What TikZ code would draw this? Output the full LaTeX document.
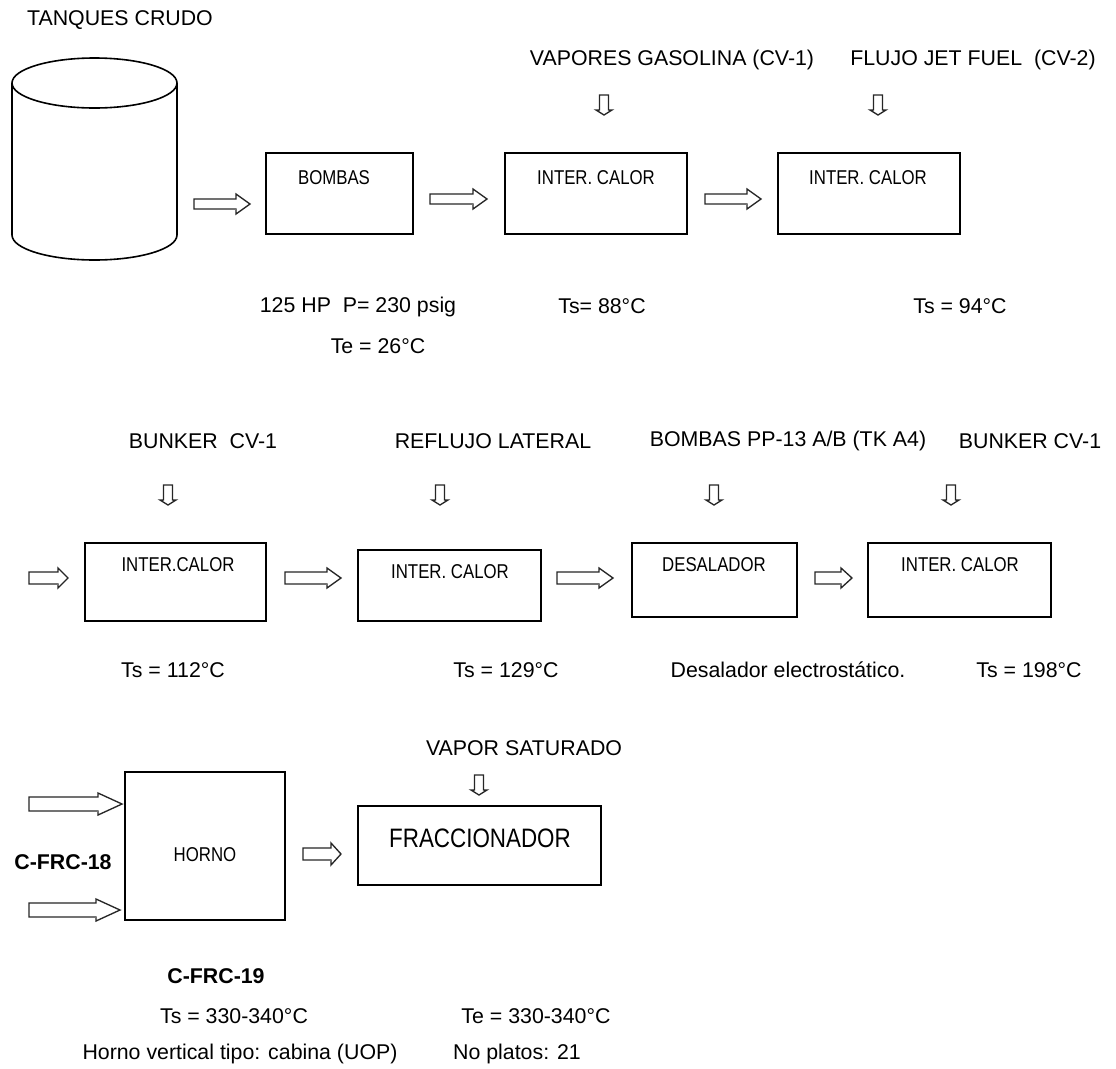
\documentclass[tikz,border=0pt]{standalone}
\usepackage{fontspec}
\setmainfont{Liberation Sans}
\newfontfamily\narrowfont[FakeStretch=0.84]{Liberation Sans}
\usetikzlibrary{fit}
\tikzset{
  lbl/.style={font=\fontsize{16}{19}\selectfont, inner sep=0pt},
  boldlbl/.style={font=\bfseries\fontsize{16}{19}\selectfont, inner sep=0pt},
  boxlbl/.style={font=\narrowfont\fontsize{15}{18}\selectfont, inner sep=0pt},
  biglbl/.style={font=\narrowfont\fontsize{20}{24}\selectfont, inner sep=0pt},
  procbox/.style={draw=black, line width=1.3pt, inner sep=0pt},
  arrowline/.style={draw=black!85, line width=1pt, fill=white, line join=miter},
  pics/harrow/.style n args={4}{code={
    \draw[arrowline] (0,-#2) -- (#1-#4,-#2) -- (#1-#4,-#3) -- (#1,0) -- (#1-#4,#3) -- (#1-#4,#2) -- (0,#2) -- cycle;
    \draw[black!55, line width=1.2pt] (0.5,#2) -- (#1-#4,#2);
  }},
  pics/varrow/.style n args={4}{code={
    \draw[arrowline] (-#2,0) -- (-#2,#1-#4) -- (-#3,#1-#4) -- (0,#1) -- (#3,#1-#4) -- (#2,#1-#4) -- (#2,0) -- cycle;
  }}
}
\begin{document}
\begin{tikzpicture}[x=0.75pt, y=-0.75pt]
\useasboundingbox[fill=white] (0,0) rectangle (1116,1068);

% ---------- Row 1 ----------
\node[lbl] (tanqlbl) at (120,20) {TANQUES CRUDO};
% tank
\coordinate (tank) at (94.5,160);
\draw[line width=1.2pt] (94.5,83) ellipse [x radius=61.875pt, y radius=18.75pt];
\draw[line width=1.2pt] (12,83) -- (12,235) arc[start angle=180, end angle=360, x radius=61.875pt, y radius=18.75pt] -- (177,83);

\pic at (194,204) {harrow={56}{5}{10}{14}};

\node[procbox, fit={(266,153)(413,234)}] (bombas) {};
\node[boxlbl] (bombaslbl) at (334,178) {BOMBAS};

\pic at (430,199) {harrow={57}{5}{10}{14}};

\node[procbox, fit={(505,153)(687,234)}] (ic1) {};
\node[boxlbl] (ic1lbl) at (596,178) {INTER. CALOR};

\pic at (705,199) {harrow={56}{5}{10}{14}};

\node[procbox, fit={(778,153)(960,234)}] (ic2) {};
\node[boxlbl] (ic2lbl) at (868,178) {INTER. CALOR};

\node[lbl] (vapgas) at (672,60) {VAPORES GASOLINA (CV-1)};
\node[lbl] (jetfuel) at (973,60) {FLUJO JET FUEL\ \ (CV-2)};
\pic at (604,95) {varrow={20}{4.5}{8}{5}};
\pic at (878,95) {varrow={20}{4.5}{8}{5}};

\node[lbl] (hp) at (358,307) {125 HP\ \ P= 230 psig};
\node[lbl] (te26) at (378,346) {Te = 26°C};
\node[lbl] (ts88) at (602,306) {Ts= 88°C};
\node[lbl] (ts94) at (960,306) {Ts = 94°C};

% ---------- Row 2 ----------
\node[lbl] (bunk1) at (203,441) {BUNKER\ \ CV-1};
\node[lbl] (reflujo) at (493,441) {REFLUJO LATERAL};
\node[lbl] (bpp) at (788,441) {BOMBAS PP-13 A/B (TK A4)};
\node[lbl] (bunk2) at (1030,441) {BUNKER CV-1};
\pic at (168,485) {varrow={20}{4.5}{8}{5}};
\pic at (440,485) {varrow={20}{4.5}{8}{5}};
\pic at (714,485) {varrow={20}{4.5}{8}{5}};
\pic at (951,485) {varrow={20}{4.5}{8}{5}};

\pic at (29,578) {harrow={39}{6}{10}{10}};
\node[procbox, fit={(85,543)(266,621)}] (ic3) {};
\node[boxlbl] (ic3lbl) at (178,565) {INTER.CALOR};
\pic at (285,578) {harrow={56}{6}{10}{14}};
\node[procbox, fit={(358,550)(541,621)}] (ic4) {};
\node[boxlbl] (ic4lbl) at (450,572) {INTER. CALOR};
\pic at (557,578) {harrow={56}{6}{10}{14}};
\node[procbox, fit={(632,543)(797,617)}] (desal) {};
\node[boxlbl] (desallbl) at (714,565) {DESALADOR};
\pic at (815,578) {harrow={37}{6}{10}{11}};
\node[procbox, fit={(868,543)(1051,617)}] (ic5) {};
\node[boxlbl] (ic5lbl) at (960,565) {INTER. CALOR};

\node[lbl] (ts112) at (173,670) {Ts = 112°C};
\node[lbl] (ts129) at (506,670) {Ts = 129°C};
\node[lbl] (deselec) at (788,670) {Desalador electrostático.};
\node[lbl] (ts198) at (1029,670) {Ts = 198°C};

% ---------- Row 3 ----------
\node[lbl] (vapsat) at (524,748) {VAPOR SATURADO};
\pic at (479,775) {varrow={20}{4.5}{8}{5}};

\pic at (29,804) {harrow={93}{7}{11}{24}};
\pic at (29,910) {harrow={91}{7}{11}{24}};
\node[procbox, fit={(125,772)(285,920)}] (horno) {};
\node[boxlbl] (hornolbl) at (205,855) {HORNO};
\pic at (303,854) {harrow={38}{6}{11}{10}};
\node[procbox, fit={(358,806)(601,885)}] (frac) {};
\node[biglbl] (fraclbl) at (480,838) {FRACCIONADOR};

\node[boldlbl] (cfrc18) at (63,862) {C-FRC-18};
\node[boldlbl] (cfrc19) at (216,976) {C-FRC-19};
\node[lbl] (ts330) at (234,1016) {Ts = 330-340°C};
\node[lbl] (te330) at (536,1016) {Te = 330-340°C};
\node[lbl] (hornov) at (240,1054) {Horno vertical tipo: cabina (UOP)};
\node[lbl] (platos) at (517,1054) {No platos: 21};
\end{tikzpicture}
\end{document}
